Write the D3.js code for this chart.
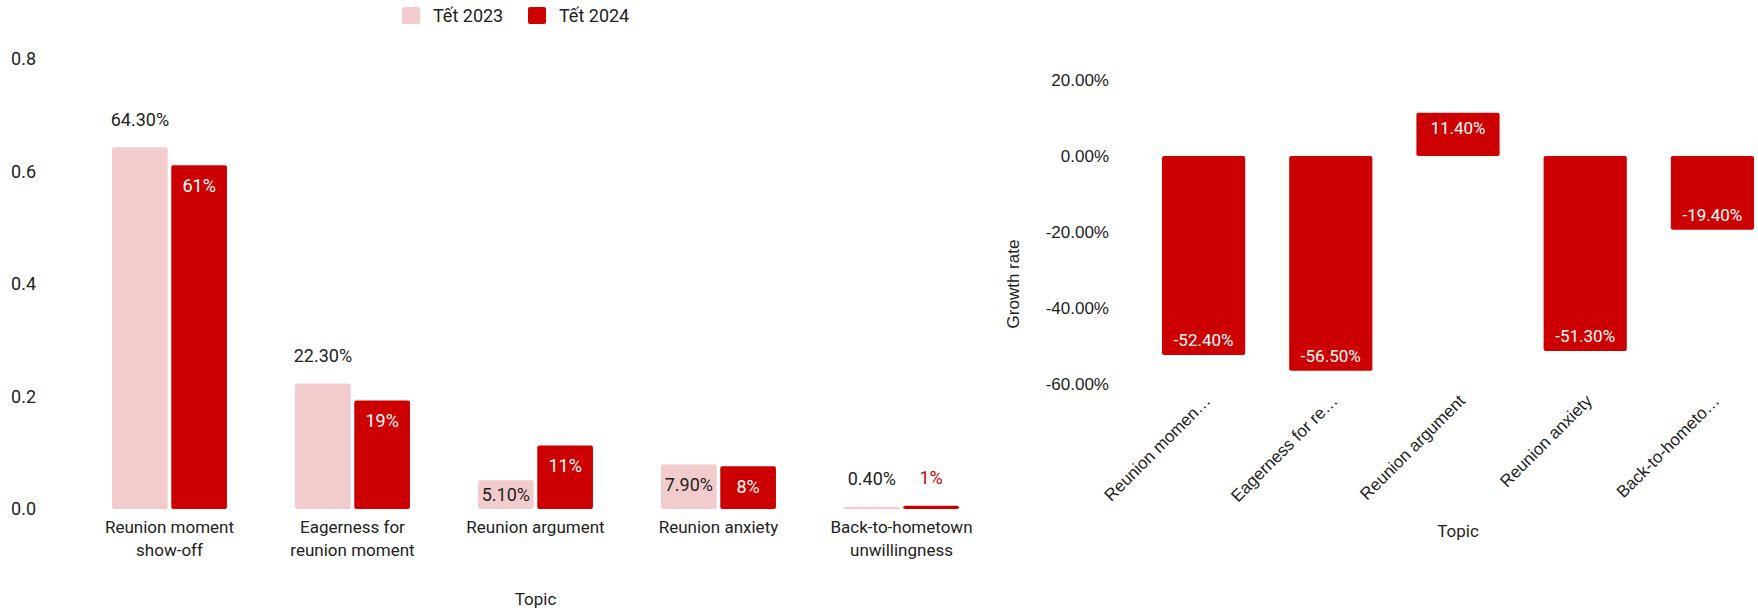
<!DOCTYPE html>
<html>
<head>
<meta charset="utf-8">
<script src="https://cdn.jsdelivr.net/npm/d3@7"></script>
<style>
  body { margin: 0; background: #fff; }
  svg { display: block; }
</style>
</head>
<body>
<svg id="chart" width="1758" height="608"></svg>
<script>
// data
const topics = ["Reunion moment show-off", "Eagerness for reunion moment", "Reunion argument", "Reunion anxiety", "Back-to-hometown unwillingness"];
const topicLines = [["Reunion moment", "show-off"], ["Eagerness for", "reunion moment"], ["Reunion argument"], ["Reunion anxiety"], ["Back-to-hometown", "unwillingness"]];
const shortTopics = ["Reunion momen\u2026", "Eagerness for re\u2026", "Reunion argument", "Reunion anxiety", "Back-to-hometo\u2026"];
const years = ["Tết 2023", "Tết 2024"];
const tet2023 = [0.643, 0.223, 0.051, 0.079, 0.004];
const tet2024 = [0.611, 0.193, 0.113, 0.076, 0.006];
const growth = [-0.524, -0.565, 0.114, -0.513, -0.194];
const leftTicks = [0, 0.2, 0.4, 0.6, 0.8];
const rightTicks = [-0.6, -0.4, -0.2, 0, 0.2];

const pink = "#f2cccd", red = "#cc0000", ink = "#222";
const roboto = "Roboto, sans-serif", arial = "'Liberation Sans', Arial, sans-serif";

const svg = d3.select("#chart");

// ---------- left: grouped bars ----------
const x0 = d3.scaleBand().domain(topics).range([78, 993]).paddingInner(0.372).paddingOuter(0.186);
const x1 = d3.scaleBand().domain(years).range([0, x0.bandwidth()]).paddingInner(0.06);
const yL = d3.scaleLinear().domain([0, 0.8]).range([509, 59]);
const color = d3.scaleOrdinal().domain(years).range([pink, red]);
const insideInk = { "Tết 2023": ink, "Tết 2024": "#fff" };
const outsideInk = { "Tết 2023": ink, "Tết 2024": red };

const left = svg.append("g");

left.append("g")
  .attr("transform", "translate(36,0)")
  .call(d3.axisLeft(yL).tickValues(leftTicks).tickFormat(d3.format(".1f")).tickSize(0).tickPadding(0))
  .call(g => g.select(".domain").remove())
  .call(g => g.selectAll("text").attr("font-family", roboto).attr("font-size", 18).attr("fill", ink));

const rows = topics.map((t, i) => years.map((y, j) => ({ topic: t, year: y, value: j === 0 ? tet2023[i] : tet2024[i] })));
const fmt2023 = d3.format(".2%"), fmt2024 = d3.format(".0%");

const groups = left.selectAll("g.grp")
  .data(rows)
  .join("g")
  .attr("class", "grp")
  .attr("transform", d => `translate(${x0(d[0].topic)},0)`);

groups.selectAll("rect")
  .data(d => d)
  .join("rect")
  .attr("x", d => x1(d.year))
  .attr("y", d => yL(d.value))
  .attr("width", x1.bandwidth())
  .attr("height", d => yL(0) - yL(d.value))
  .attr("rx", 2)
  .attr("fill", d => color(d.year));

// value labels go inside when they fit, otherwise above the bar
groups.selectAll("text")
  .data(d => d)
  .join("text")
  .attr("text-anchor", "middle")
  .attr("font-family", roboto)
  .attr("font-size", 18)
  .attr("x", d => x1(d.year) + x1.bandwidth() / 2)
  .text(d => d.year === years[0] ? fmt2023(d.value) : fmt2024(d.value))
  .each(function(d) {
    const w = this.getComputedTextLength();
    const top = yL(d.value), h = yL(0) - top;
    const inside = w + 4 < x1.bandwidth() && h > 22;
    d3.select(this)
      .attr("y", inside ? Math.min(top + 20, top + h / 2) : top - 28)
      .attr("dy", "0.35em")
      .attr("fill", inside ? insideInk[d.year] : outsideInk[d.year]);
  });

// category labels
left.append("g").selectAll("text")
  .data(topics)
  .join("text")
  .attr("text-anchor", "middle")
  .attr("font-family", roboto)
  .attr("font-size", 17)
  .attr("fill", ink)
  .attr("x", d => x0(d) + x0.bandwidth() / 2)
  .attr("y", 533)
  .selectAll("tspan")
  .data((d, i) => topicLines[i])
  .join("tspan")
  .attr("x", function() { return this.parentNode.getAttribute("x"); })
  .attr("dy", (d, i) => i === 0 ? 0 : 23)
  .text(d => d);

left.append("text")
  .attr("x", (x0.range()[0] + x0.range()[1]) / 2)
  .attr("y", 605)
  .attr("text-anchor", "middle")
  .attr("font-family", roboto)
  .attr("font-size", 17)
  .attr("fill", ink)
  .text("Topic");

// legend
const legend = svg.append("g").selectAll("g")
  .data(years)
  .join("g")
  .attr("transform", (d, i) => `translate(${402 + i * 126},7)`);
legend.append("rect").attr("width", 18).attr("height", 17).attr("rx", 2).attr("fill", d => color(d));
legend.append("text")
  .attr("x", 31).attr("y", 8.5).attr("dy", "0.35em")
  .attr("font-family", roboto).attr("font-size", 18).attr("fill", ink)
  .text(d => d);

// ---------- right: growth rate ----------
const xR = d3.scaleBand().domain(topics).range([1162, 1754]).paddingInner(0.346).paddingOuter(0);
const yR = d3.scaleLinear().domain([-0.6, 0.2]).range([384, 80]);
const pct2 = d => d3.format(".2%")(d).replace("\u2212", "-");

const right = svg.append("g");

right.append("g")
  .attr("transform", "translate(1109,0)")
  .call(d3.axisLeft(yR).tickValues(rightTicks).tickFormat(pct2).tickSize(0).tickPadding(0))
  .call(g => g.select(".domain").remove())
  .call(g => g.selectAll("text").attr("font-family", arial).attr("font-size", 17).attr("fill", ink));

right.selectAll("rect")
  .data(growth)
  .join("rect")
  .attr("x", (d, i) => xR(topics[i]))
  .attr("y", d => yR(Math.max(0, d)))
  .attr("width", xR.bandwidth())
  .attr("height", d => Math.abs(yR(d) - yR(0)))
  .attr("rx", 2)
  .attr("fill", red);

right.selectAll("text.val")
  .data(growth)
  .join("text")
  .attr("class", "val")
  .attr("x", (d, i) => xR(topics[i]) + xR.bandwidth() / 2)
  .attr("y", d => d < 0 ? yR(d) - 15 : yR(d) + 15)
  .attr("dy", "0.35em")
  .attr("text-anchor", "middle")
  .attr("font-family", roboto)
  .attr("font-size", 17)
  .attr("fill", "#fff")
  .text(d => pct2(d));

right.append("g").selectAll("text")
  .data(shortTopics)
  .join("text")
  .attr("transform", (d, i) => `translate(${xR(topics[i]) + xR.bandwidth() / 2 + 8},402) rotate(-45)`)
  .attr("text-anchor", "end")
  .attr("font-family", arial)
  .attr("font-size", 17)
  .attr("fill", ink)
  .text(d => d);

right.append("text")
  .attr("transform", "translate(1019,284) rotate(-90)")
  .attr("text-anchor", "middle")
  .attr("font-family", arial)
  .attr("font-size", 17)
  .attr("fill", ink)
  .text("Growth rate");

right.append("text")
  .attr("x", 1458)
  .attr("y", 537)
  .attr("text-anchor", "middle")
  .attr("font-family", roboto)
  .attr("font-size", 17)
  .attr("fill", ink)
  .text("Topic");
</script>
</body>
</html>
